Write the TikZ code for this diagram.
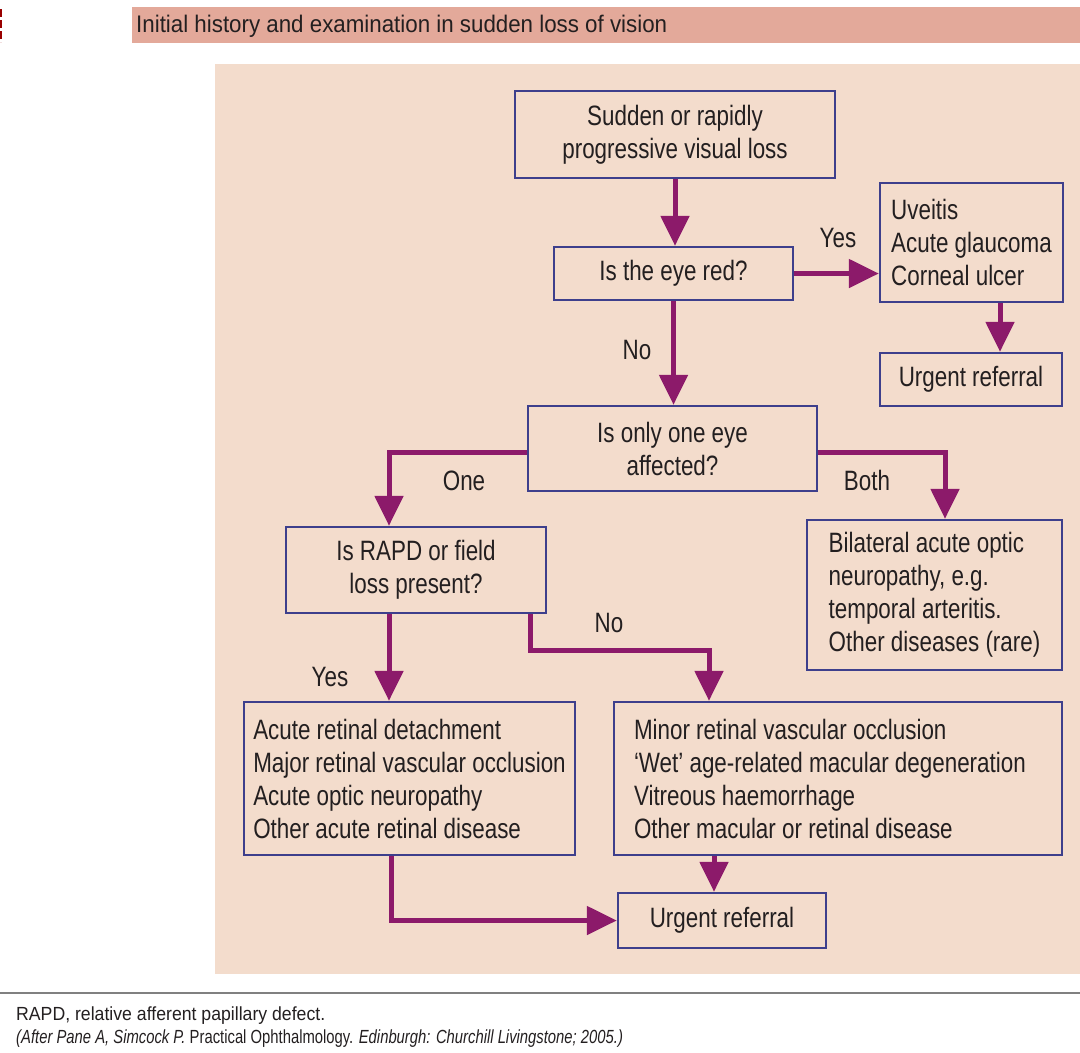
\documentclass[tikz,border=0pt]{standalone}
\usepackage{fontspec}
\setmainfont{Liberation Sans}
\newfontfamily\boxfont{Liberation Sans}[FakeStretch=0.8]
\newfontfamily\headfont{Liberation Sans}[FakeStretch=0.93]
\newfontfamily\notefont{Liberation Sans}[FakeStretch=0.78]
\usetikzlibrary{positioning,arrows.meta}

\definecolor{panel}{HTML}{F3DCCC}
\definecolor{band}{HTML}{E3A99A}
\definecolor{edge}{HTML}{3D3F8C}
\definecolor{flow}{HTML}{8C1A6A}
\definecolor{ink}{HTML}{231F20}

\tikzset{
  box/.style={draw=edge, line width=2.4pt, text=ink, align=center, inner sep=0pt,
    font=\boxfont\fontsize{28}{33}\selectfont},
  list/.style={box, align=left},
  arr/.style={draw=flow, line width=5pt, -{Triangle[length=30pt,width=28pt]}},
  lbl/.style={text=ink, inner sep=0pt, font=\boxfont\fontsize{28}{33}\selectfont},
  small/.style={text=ink, inner sep=0pt, font=\headfont\fontsize{19}{22}\selectfont},
}

\begin{document}
\begin{tikzpicture}[x=1pt, y=-1pt]
            \useasboundingbox (0,0) rectangle (1080,1053);
            % heading and panel
            \draw[red!60!black, line width=2.5pt, dash pattern=on 8pt off 3pt] (1.2,9) -- (1.2,42);
            \fill[band] (132,7) rectangle (1080,43);
            \fill[panel] (215,64) rectangle (1080,974);
            \draw[gray, line width=1.5pt] (0,993) -- (1080,993);
            \node[anchor=west, text=ink, inner sep=0pt, font=\headfont\fontsize{24}{28}\selectfont] (title) at (136,26) {Initial history and examination in sudden loss of vision};

            % boxes
            \node[box, minimum width=320pt, minimum height=87pt] (start) at (675,134.5) {Sudden or rapidly\\progressive visual loss};
            \node[box, minimum width=239pt, minimum height=53pt] (red) at (673.5,273.5) {Is the eye red?};
            \node[list, minimum width=183pt, minimum height=119pt] (anterior) at (971.5,242.5) {Uveitis\\Acute glaucoma\\Corneal ulcer};
            \node[box, minimum width=182pt, minimum height=53pt] (referA) at (971,379.5) {Urgent referral};
            \node[box, minimum width=289pt, minimum height=85pt] (oneeye) at (672.5,448.5) {Is only one eye\\affected?};
            \node[box, minimum width=260pt, minimum height=86pt] (rapd) at (416,570) {Is RAPD or field\\loss present?};
            \node[list, minimum width=255pt, minimum height=150pt] (bilat) at (934.5,595) {Bilateral acute optic\\neuropathy, e.g.\\temporal arteritis.\\Other diseases (rare)};
            \node[list, minimum width=331pt, minimum height=153pt] (major) at (409.5,778.5) {Acute retinal detachment\\Major retinal vascular occlusion\\Acute optic neuropathy\\Other acute retinal disease};
            \node[box, align=flush left, text width=408pt, inner xsep=20pt, minimum height=153pt] (minor) at (838,778.5) {Minor retinal vascular occlusion\\‘Wet’ age-related macular degeneration\\Vitreous haemorrhage\\Other macular or retinal disease};
            \node[box, minimum width=208pt, minimum height=55pt] (referB) at (722,920.5) {Urgent referral};

            % answers
            \node[lbl] (yesA) at (838,238) {Yes};
            \node[lbl] (noA) at (637,350) {No};
            \node[lbl] (one) at (464,481) {One};
            \node[lbl] (both) at (867,480) {Both};
            \node[lbl] (noB) at (609,623) {No};
            \node[lbl] (yesB) at (330,677) {Yes};

            \draw[arr] (start) -- (start |- red.north);
            \draw[arr] (red.east) -- (red.east -| anterior.west);
            \draw[arr] ([xshift=28.5pt]anterior.south) -- ([xshift=28.5pt]anterior.south |- referA.north);
            \draw[arr] (red) -- (red |- oneeye.north);
            \draw[arr] ([yshift=-3.5pt]oneeye.west) -| ([xshift=-27pt]rapd.north);
            \draw[arr] ([yshift=-3.5pt]oneeye.east) -| ([xshift=10.5pt]bilat.north);
            \draw[arr] ([xshift=-27pt]rapd.south) -- ([xshift=-27pt]rapd.south |- major.north);
            \draw[arr] ([xshift=114pt]rapd.south) -- ++(0,36) -| ([xshift=-129pt]minor.north);
            \draw[arr] ([xshift=-18.5pt]major.south) |- (referB.west);
            \draw[arr] ([xshift=-124pt]minor.south) -- ([xshift=-124pt]minor.south |- referB.north);

            % footnote
            \node[small, anchor=base west] (abbr) at (16,1020) {RAPD, relative afferent papillary defect.};
            \node[small, anchor=base west, font=\notefont\fontsize{19}{22}\selectfont] (source) at (16,1043) {\textit{(After Pane A, Simcock P.} Practical Ophthalmology. \textit{Edinburgh: Churchill Livingstone; 2005.)}};
          \end{tikzpicture}
\end{document}
